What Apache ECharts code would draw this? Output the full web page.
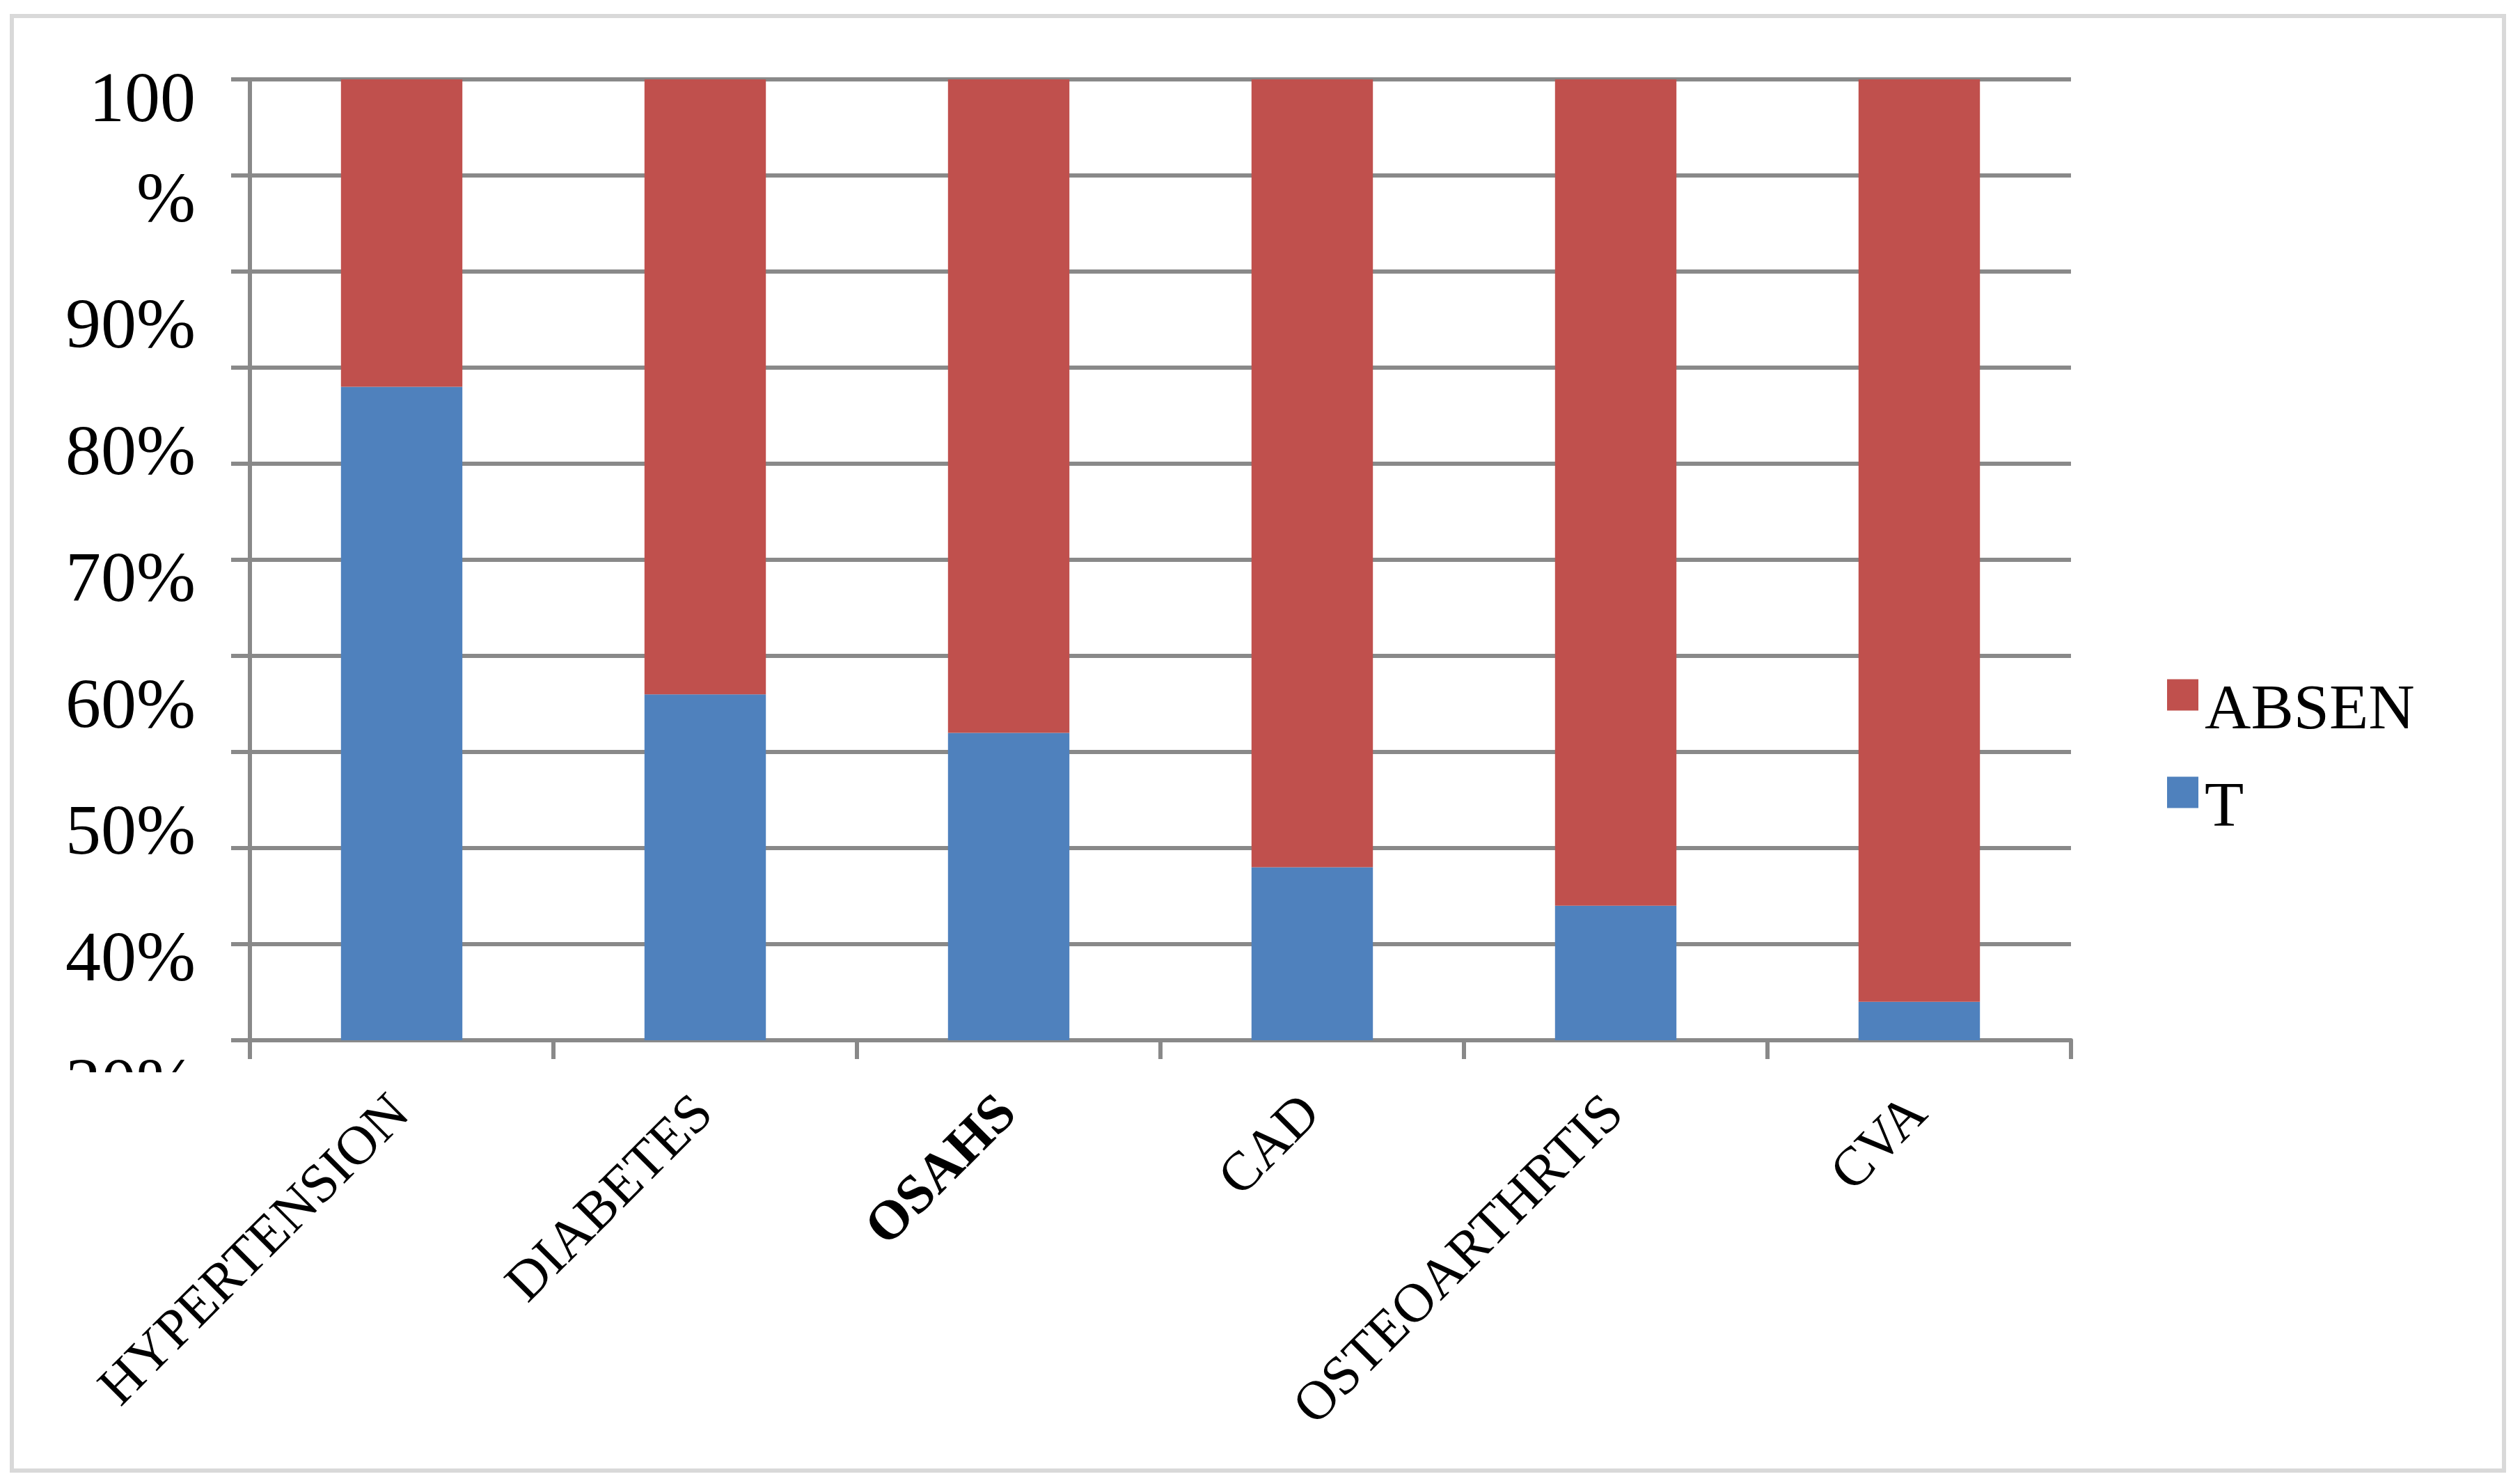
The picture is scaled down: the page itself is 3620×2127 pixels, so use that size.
<!DOCTYPE html>
<html>
<head>
<meta charset="utf-8">
<script src="https://cdn.jsdelivr.net/npm/echarts@6/dist/echarts.min.js"></script>
<style>
html,body{margin:0;padding:0;background:#fff;}
#chart{width:3620px;height:2127px;}
</style>
</head>
<body>
<div id="chart"></div>
<script>
// Data
var categories = ['HYPERTENSION', 'DIABETES', 'OSAHS', 'CAD', 'OSTEOARTHRTIS', 'CVA'];
var presentValues = [68, 36, 32, 18, 14, 4];      // blue series, legend "T"
var absentValues  = [32, 64, 68, 82, 86, 96];     // red series, legend "ABSEN"
var seriesNames = ['ABSEN', 'T'];

var FONT = '"Liberation Serif", "DejaVu Serif", serif';
var GRID_COLOR = '#898989';

var chart = echarts.init(document.getElementById('chart'), null, {renderer: 'canvas'});

var option = {
  backgroundColor: '#ffffff',
  animation: false,
  grid: [
    {left: 359, right: 645, top: 114, bottom: 633, containLabel: false},
    {left: 359, right: 645, top: 109, bottom: 564, containLabel: false}
  ],
  legend: {
    orient: 'vertical',
    left: 3108,
    top: 923,
    icon: 'rect',
    itemWidth: 45,
    itemHeight: 45,
    itemGap: 0,
    data: seriesNames,
    formatter: function (name) { return '{a|' + name + '}'; },
    textStyle: {
      fontFamily: FONT,
      fontSize: 92,
      color: '#000',
      rich: {
        a: {fontFamily: FONT, fontSize: 92, lineHeight: 96, color: '#000', padding: [48, 0, 0, 4]}
      }
    }
  },
  xAxis: [
    {
      type: 'category',
      gridIndex: 0,
      data: categories,
      boundaryGap: true,
      axisLine: {show: true, lineStyle: {color: GRID_COLOR, width: 6}},
      axisTick: {show: true, interval: 0, length: 27, lineStyle: {color: GRID_COLOR, width: 6}},
      axisLabel: {
        interval: 0,
        rotate: 45,
        margin: 94,
        fontFamily: FONT,
        fontSize: 79,
        color: '#000',
        formatter: function (v) { return v === 'OSAHS' ? '{b|' + v + '}' : v; },
        rich: {
          b: {fontFamily: FONT, fontSize: 79, fontWeight: 'bold', color: '#000'}
        }
      },
      splitLine: {show: false}
    },
    {
      type: 'category',
      gridIndex: 1,
      data: categories,
      show: false
    }
  ],
  yAxis: [
    {
      type: 'value',
      gridIndex: 0,
      min: 0,
      max: 100,
      interval: 10,
      axisLine: {show: true, lineStyle: {color: GRID_COLOR, width: 6}},
      axisTick: {show: true, length: 27, lineStyle: {color: GRID_COLOR, width: 6}},
      axisLabel: {show: false},
      splitLine: {show: true, lineStyle: {color: GRID_COLOR, width: 6}}
    },
    {
      type: 'value',
      gridIndex: 1,
      min: 30,
      max: 110,
      interval: 10,
      axisLine: {show: false},
      axisTick: {show: false},
      splitLine: {show: false},
      axisLabel: {
        show: true,
        margin: 78,
        fontFamily: FONT,
        fontSize: 102,
        color: '#000',
        formatter: function (v) {
          if (v === 110) return '{u|100}';
          if (v === 100) return '%';
          return v + '%';
        },
        rich: {
          u: {fontFamily: FONT, fontSize: 102, color: '#000', padding: [76, 0, 0, 0]}
        }
      }
    }
  ],
  graphic: [
    {
      type: 'rect',
      z: 100,
      shape: {x: 25, y: 1540, width: 300, height: 60},
      style: {fill: '#ffffff'}
    },
    {
      type: 'rect',
      z: 100,
      shape: {x: 17, y: 23, width: 3580, height: 2089},
      style: {fill: 'none', stroke: '#d9d9d9', lineWidth: 6}
    }
  ],
  series: [
    {
      name: 'T',
      type: 'bar',
      stack: 'total',
      xAxisIndex: 0,
      yAxisIndex: 0,
      barWidth: '40%',
      itemStyle: {color: '#4f81bd'},
      data: presentValues
    },
    {
      name: 'ABSEN',
      type: 'bar',
      stack: 'total',
      xAxisIndex: 0,
      yAxisIndex: 0,
      barWidth: '40%',
      itemStyle: {color: '#c0504d'},
      data: absentValues
    }
  ]
};

chart.setOption(option);
</script>
</body>
</html>
